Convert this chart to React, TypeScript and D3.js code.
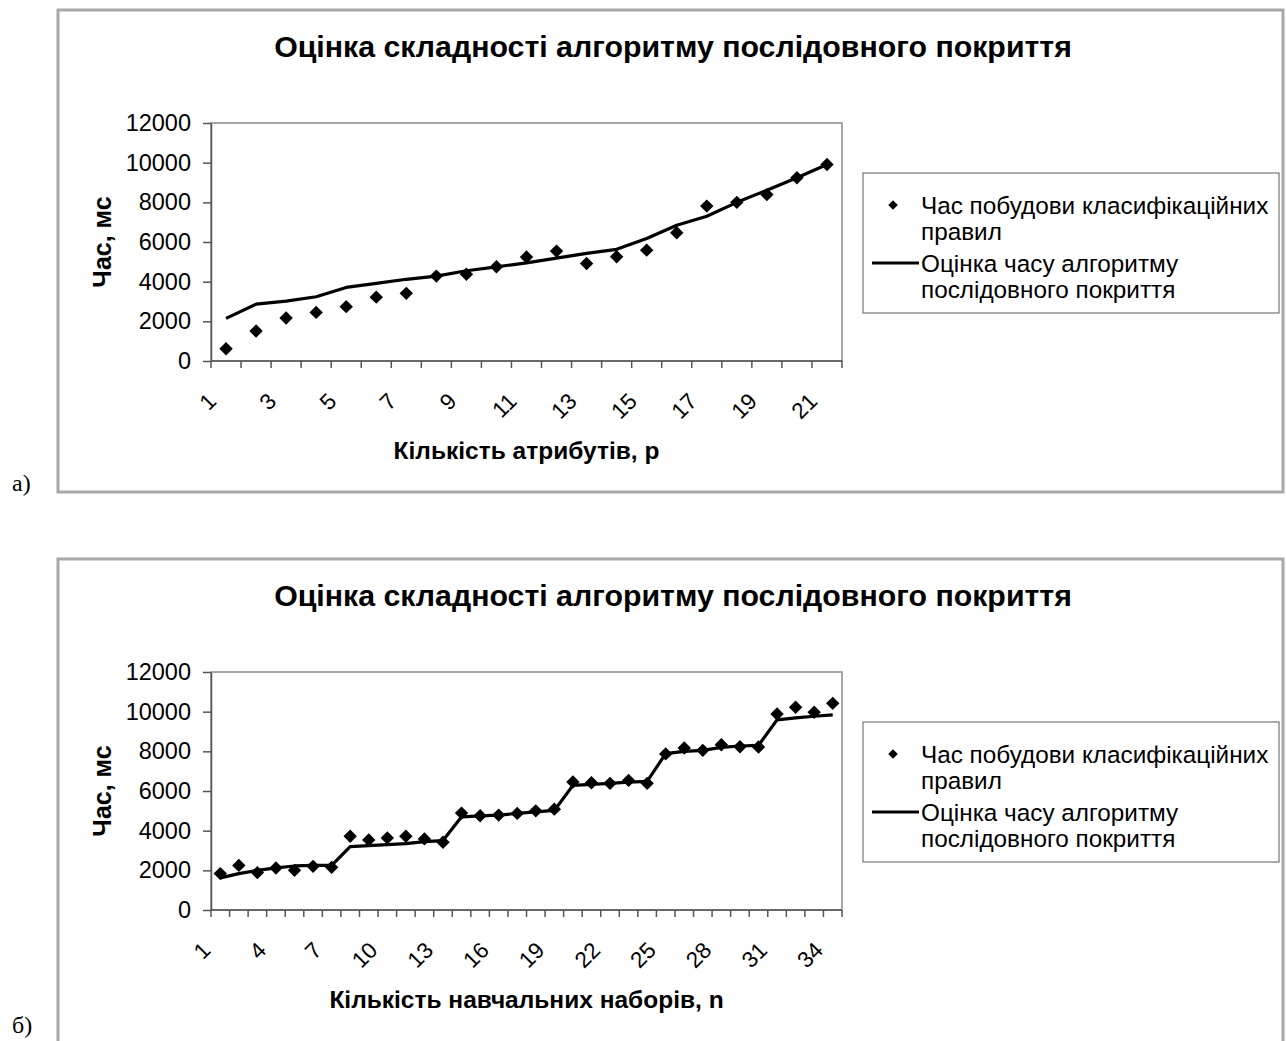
import { useEffect, useRef } from "react";
import * as d3 from "d3";

const chartTitle = "Оцінка складності алгоритму послідовного покриття";
const yTitle = "Час, мс";
const legendPoints = ["Час побудови класифікаційних", "правил"];
const legendLine = ["Оцінка часу алгоритму", "послідовного покриття"];
const yTicks = [0, 2000, 4000, 6000, 8000, 10000, 12000];

// chart a) - number of attributes
const topCategories = [1, 2, 3, 4, 5, 6, 7, 8, 9, 10, 11, 12, 13, 14, 15, 16, 17, 18, 19, 20, 21];
const topLabels = [1, 3, 5, 7, 9, 11, 13, 15, 17, 19, 21];
const topPoints = [620, 1510, 2170, 2450, 2740, 3220, 3410, 4280, 4370, 4750, 5240, 5540, 4920, 5260, 5590, 6470, 7810, 8000, 8390, 9240, 9910];
const topLine = [2150, 2870, 3020, 3240, 3710, 3910, 4120, 4280, 4550, 4750, 4950, 5190, 5430, 5630, 6180, 6840, 7300, 8000, 8610, 9240, 9910];

// chart б) - number of training sets
const bottomCategories = [1, 2, 3, 4, 5, 6, 7, 8, 9, 10, 11, 12, 13, 14, 15, 16, 17, 18, 19, 20, 21, 22, 23, 24, 25, 26, 27, 28, 29, 30, 31, 32, 33, 34];
const bottomLabels = [1, 4, 7, 10, 13, 16, 19, 22, 25, 28, 31, 34];
const bottomPoints = [1835, 2250, 1885, 2120, 2000, 2200, 2150, 3720, 3535, 3635, 3720, 3585, 3420, 4885, 4750, 4785, 4870, 5000, 5085, 6450, 6420, 6385, 6535, 6385, 7870, 8170, 8050, 8335, 8235, 8220, 9885, 10220, 9970, 10420];
const bottomLine = [1620, 1835, 2000, 2120, 2220, 2250, 2250, 3200, 3250, 3300, 3350, 3450, 3500, 4700, 4750, 4785, 4870, 4950, 5020, 6285, 6335, 6385, 6450, 6485, 7885, 8000, 8050, 8200, 8270, 8300, 9585, 9685, 9770, 9835];

const FONT = "'Liberation Sans', Arial, sans-serif";

type ChartCfg = {
  top: number; // frame top
  frameBottom: number;
  tagY: number;
  categories: number[];
  labels: number[];
  points: number[];
  line: number[];
  xTitle: string;
  tag: string;
};

function drawChart(svg: d3.Selection<SVGSVGElement, unknown, null, undefined>, cfg: ChartCfg) {
  const g = svg.append("g").attr("transform", `translate(0,${cfg.top})`);
  const plot = { left: 211, right: 842, top: 113, bottom: 351 };

  // outer frame
  g.append("rect")
    .attr("x", 58)
    .attr("y", 0)
    .attr("width", 1225)
    .attr("height", cfg.frameBottom - cfg.top)
    .attr("fill", "none")
    .attr("stroke", "#a8a8a8")
    .attr("stroke-width", 3);

  svg.append("text")
    .attr("x", 12)
    .attr("y", cfg.tagY)
    .attr("font-family", "'Liberation Serif', 'Times New Roman', serif")
    .attr("font-size", 24)
    .text(cfg.tag);

  g.append("text")
    .attr("x", 673)
    .attr("y", 47)
    .attr("text-anchor", "middle")
    .attr("font-family", FONT)
    .attr("font-weight", "bold")
    .attr("font-size", 30.3)
    .text(chartTitle);

  const x = d3
    .scaleBand<number>()
    .domain(cfg.categories)
    .range([plot.left, plot.right]);
  const y = d3.scaleLinear().domain([0, 12000]).range([plot.bottom, plot.top]);

  // plot border
  g.append("rect")
    .attr("x", plot.left)
    .attr("y", plot.top)
    .attr("width", plot.right - plot.left)
    .attr("height", plot.bottom - plot.top)
    .attr("fill", "none")
    .attr("stroke", "#8a8a8a")
    .attr("stroke-width", 1.5);

  // Y axis
  const yAxis = g
    .append("g")
    .attr("transform", `translate(${plot.left},0)`)
    .call(
      d3
        .axisLeft(y)
        .tickValues(yTicks)
        .tickFormat(d3.format("d") as any)
        .tickSize(8)
        .tickPadding(12)
        .tickSizeOuter(0)
    );
  yAxis.select(".domain").attr("stroke", "#555").attr("stroke-width", 1.5);
  yAxis.selectAll(".tick line").attr("stroke", "#555").attr("stroke-width", 1.5);
  yAxis.selectAll(".tick text")
    .attr("font-family", FONT)
    .attr("font-size", 23.5)
    .attr("fill", "#000");

  // X axis line and ticks at band edges
  g.append("line")
    .attr("x1", plot.left)
    .attr("x2", plot.right)
    .attr("y1", plot.bottom)
    .attr("y2", plot.bottom)
    .attr("stroke", "#555")
    .attr("stroke-width", 1.5);
  const edges = cfg.categories.map(c => x(c)!).concat([plot.right]);
  g.selectAll(".xtick")
    .data(edges)
    .enter()
    .append("line")
    .attr("x1", d => d)
    .attr("x2", d => d)
    .attr("y1", plot.bottom)
    .attr("y2", plot.bottom + 7)
    .attr("stroke", "#555")
    .attr("stroke-width", 1.5);

  const bw = x.bandwidth();
  g.selectAll(".xlabel")
    .data(cfg.labels)
    .enter()
    .append("text")
    .attr("transform", d => `translate(${x(d)! + bw / 2 - 14},${plot.bottom + 36}) rotate(-45)`)
    .attr("text-anchor", "end")
    .attr("dy", "0.35em")
    .attr("font-family", FONT)
    .attr("font-size", 22.5)
    .text(d => String(d));

  // axis titles
  g.append("text")
    .attr("x", (plot.left + plot.right) / 2)
    .attr("y", plot.bottom + 98)
    .attr("text-anchor", "middle")
    .attr("font-family", FONT)
    .attr("font-weight", "bold")
    .attr("font-size", 24.5)
    .text(cfg.xTitle);
  g.append("text")
    .attr("transform", `translate(111,${(plot.top + plot.bottom) / 2}) rotate(-90)`)
    .attr("text-anchor", "middle")
    .attr("font-family", FONT)
    .attr("font-weight", "bold")
    .attr("font-size", 25)
    .text(yTitle);

  // estimate line
  const lineData = cfg.categories.map((c, i) => ({ c, v: cfg.line[i] }));
  g.append("path")
    .datum(lineData)
    .attr("fill", "none")
    .attr("stroke", "#000")
    .attr("stroke-width", 3.2)
    .attr("stroke-linejoin", "round")
    .attr(
      "d",
      d3
        .line<{ c: number; v: number }>()
        .x(d => x(d.c)! + bw / 2)
        .y(d => y(d.v))
    );

  // measured points
  const diamond = d3.symbol().type(d3.symbolSquare).size(90);
  g.selectAll(".pt")
    .data(cfg.categories.map((c, i) => ({ c, v: cfg.points[i] })))
    .enter()
    .append("path")
    .attr("d", diamond)
    .attr("transform", d => `translate(${x(d.c)! + bw / 2},${y(d.v)}) rotate(45)`)
    .attr("fill", "#000");

  // legend
  const lg = g.append("g").attr("transform", "translate(863,163)");
  lg.append("rect")
    .attr("width", 416)
    .attr("height", 140)
    .attr("fill", "#fff")
    .attr("stroke", "#777")
    .attr("stroke-width", 1.2);
  lg.append("path")
    .attr("d", d3.symbol().type(d3.symbolSquare).size(45))
    .attr("transform", "translate(30,32) rotate(45)")
    .attr("fill", "#000");
  lg.append("line")
    .attr("x1", 9)
    .attr("x2", 56)
    .attr("y1", 90)
    .attr("y2", 90)
    .attr("stroke", "#000")
    .attr("stroke-width", 3);
  const rows = [
    { t: legendPoints[0], y: 32 },
    { t: legendPoints[1], y: 58 },
    { t: legendLine[0], y: 90 },
    { t: legendLine[1], y: 116 },
  ];
  lg.selectAll(".lt")
    .data(rows)
    .enter()
    .append("text")
    .attr("x", 58)
    .attr("y", d => d.y)
    .attr("dy", "0.35em")
    .attr("font-family", FONT)
    .attr("font-size", 24.3)
    .text(d => d.t);
}

export default function App() {
  const ref = useRef<SVGSVGElement | null>(null);

  useEffect(() => {
    const svg = d3.select(ref.current!);
    svg.selectAll("*").remove();
    svg.append("rect").attr("width", 1286).attr("height", 1041).attr("fill", "#fff");

    drawChart(svg, {
      top: 10,
      frameBottom: 492,
      tagY: 491,
      categories: topCategories,
      labels: topLabels,
      points: topPoints,
      line: topLine,
      xTitle: "Кількість атрибутів, р",
      tag: "а)",
    });
    drawChart(svg, {
      top: 559,
      frameBottom: 1060,
      tagY: 1033,
      categories: bottomCategories,
      labels: bottomLabels,
      points: bottomPoints,
      line: bottomLine,
      xTitle: "Кількість навчальних наборів, n",
      tag: "б)",
    });
  }, []);

  return (
    <svg
      ref={ref}
      width={1286}
      height={1041}
      style={{ position: "absolute", left: 0, top: 0 }}
    />
  );
}
